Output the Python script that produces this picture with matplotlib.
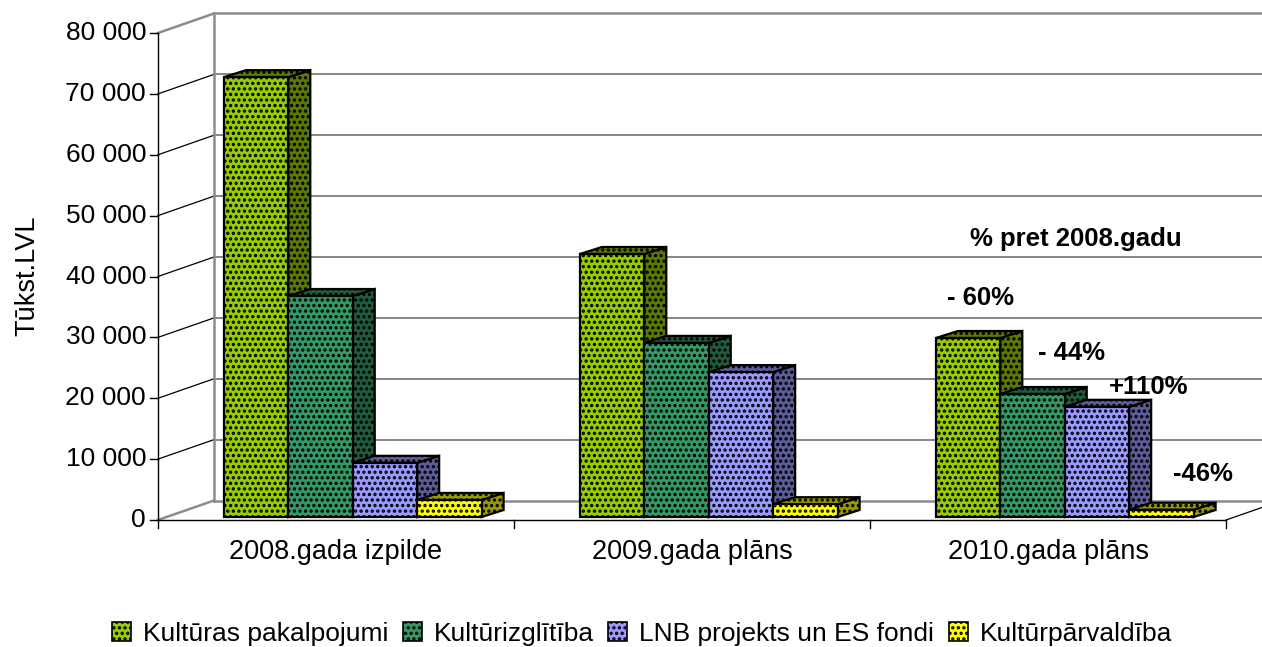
import matplotlib
matplotlib.use('Agg')
import matplotlib.pyplot as plt
from matplotlib.patches import Polygon, Patch

plt.rcParams['font.family'] = ['Liberation Sans', 'DejaVu Sans']
plt.rcParams['hatch.linewidth'] = 1.6

categories = ['2008.gada izpilde', '2009.gada plāns', '2010.gada plāns']
series_names = ['Kultūras pakalpojumi', 'Kultūrizglītība', 'LNB projekts un ES fondi', 'Kultūrpārvaldība']
kultura = [72250, 43200, 29400]
izglitiba = [36300, 28600, 20200]
lnb = [8900, 23800, 18100]
parvaldiba = [2800, 2100, 1200]
series = [kultura, izglitiba, lnb, parvaldiba]

y_ticks = [0, 10000, 20000, 30000, 40000, 50000, 60000, 70000, 80000]
y_labels = ['0', '10 000', '20 000', '30 000', '40 000', '50 000', '60 000', '70 000', '80 000']

face_colors = ['#99CC00', '#339966', '#9999FF', '#FFFF00']
side_colors = ['#5C7A00', '#1F5C3D', '#5C5C99', '#999900']

# percent notes next to the 2010 bars: x in category units, y in LVL
note_texts = ['% pret 2008.gadu', '- 60%', '- 44%', '+110%', '-46%']
note_x = [2.579, 2.309, 2.567, 2.784, 2.935]
note_y = [46160, 36470, 27430, 21850, 7560]

fig = plt.figure(figsize=(12.62, 6.47), dpi=100)
W, H = 1262, 647
ax = fig.add_axes([158 / W, 1 - 520 / H, 1068 / W, 487 / H])
ax.set_xlim(0, 3)
ax.set_ylim(0, 80000)
ax.axis('off')

# size of one pixel in data units, used for the fake 3D offsets
px_x = 3 / 1068
px_y = 80000 / 487
wall_dx, wall_dy = 56 * px_x, 19.5 * px_y
right_limit = (1262 - 158) * px_x

wall_gray = '#8C8C8C'

# back wall and floor
for v in y_ticks:
    col = wall_gray if v in (0, 80000) else '#666666'
    lw = 1.8 if v in (0, 80000) else 1.1
    ax.plot([wall_dx, right_limit], [v + wall_dy, v + wall_dy], color=col, lw=lw, clip_on=False, zorder=1)
    ax.plot([0, wall_dx], [v, v + wall_dy], color=wall_gray if v in (0, 80000) else 'black',
            lw=1.8 if v in (0, 80000) else 0.9, clip_on=False, zorder=1)
ax.plot([wall_dx, wall_dx], [wall_dy, 80000 + wall_dy], color=wall_gray, lw=1.8, clip_on=False, zorder=1)
ax.plot([3, right_limit], [0, (right_limit - 3) / wall_dx * wall_dy], color='black', lw=0.9, clip_on=False, zorder=1)

# front axes
ax.plot([0, 3], [0, 0], color='black', lw=1, clip_on=False, zorder=2)
ax.plot([0, 0], [0, 80000], color='black', lw=1, clip_on=False, zorder=6)
for v, lab in zip(y_ticks, y_labels):
    ax.plot([-8 * px_x, 0], [v, v], color='black', lw=1, clip_on=False, zorder=6)
    ax.text(-12 * px_x, v, lab, ha='right', va='center', fontsize=19, color='black')
for i in range(4):
    ax.plot([i, i], [0, -8 * px_y], color='black', lw=1, clip_on=False)
for i, cat in enumerate(categories):
    ax.text(i + 0.5, -32 * px_y, cat, ha='center', va='center', fontsize=19.5)

# bars, left to right so that each one covers the side of the previous one
bar_w = 0.181
group_start = 0.185
base = 3 * px_y
dx, dy = 22 * px_x, 7 * px_y
for g in range(len(categories)):
    for s, vals in enumerate(series):
        x0 = g + group_start + s * bar_w
        x1 = x0 + bar_w
        top = base + vals[g]
        side = [(x1, base), (x1 + dx, base + dy), (x1 + dx, top + dy), (x1, top)]
        roof = [(x0, top), (x0 + dx, top + dy), (x1 + dx, top + dy), (x1, top)]
        front = [(x0, base), (x1, base), (x1, top), (x0, top)]
        z = 3 + 0.01 * (g * 4 + s)
        ax.add_patch(Polygon(side, facecolor=side_colors[s], edgecolor='black', hatch='...', lw=1.6, clip_on=False, zorder=z))
        ax.add_patch(Polygon(roof, facecolor=side_colors[s], edgecolor='black', hatch='...', lw=1.6, clip_on=False, zorder=z))
        ax.add_patch(Polygon(front, facecolor=face_colors[s], edgecolor='black', hatch='...', lw=1.6, clip_on=False, zorder=z))

for t, x, y in zip(note_texts, note_x, note_y):
    ax.text(x, y, t, ha='center', va='center', fontsize=18.5, fontweight='bold', zorder=8, clip_on=False)

fig.text(27 / W, 1 - 276 / H, 'Tūkst.LVL', rotation=90, ha='center', va='center', fontsize=19.5)

handles = [Patch(facecolor=c, edgecolor='black', hatch='...', lw=1.2) for c in face_colors]
fig.legend(handles, series_names, loc='center', bbox_to_anchor=(642 / W, 1 - 634 / H), ncols=4, frameon=False,
           fontsize=19, handlelength=0.72, handleheight=0.72, handletextpad=0.45, columnspacing=0.55, borderpad=0)

fig.savefig('out.png', dpi=100)
